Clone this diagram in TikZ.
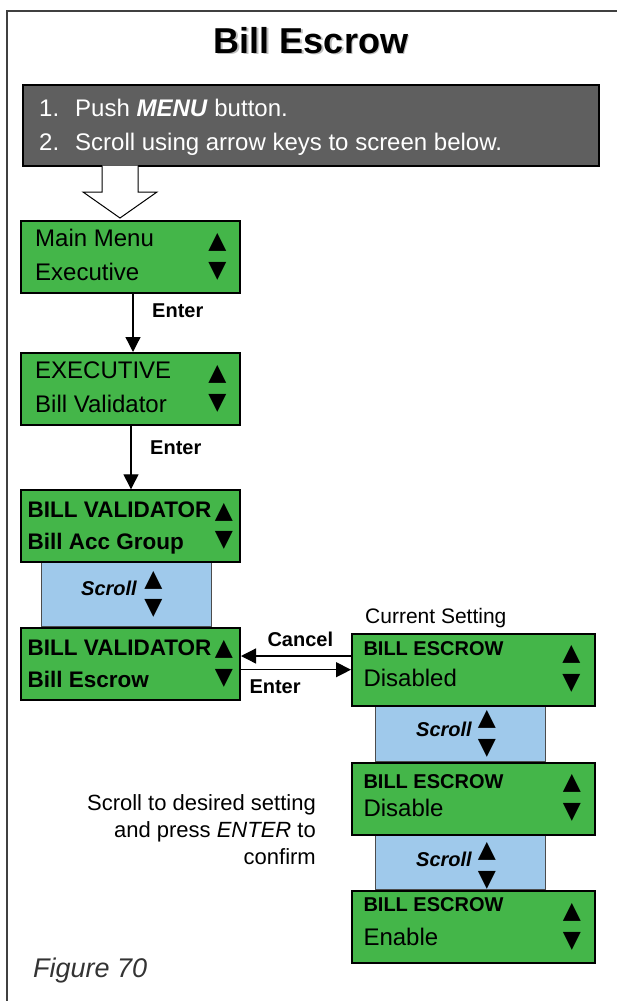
\documentclass[tikz,border=0pt]{standalone}
\usepackage{fontspec}
\setmainfont{Liberation Sans}
\newfontfamily\symfont{DejaVu Sans}
\usetikzlibrary{arrows.meta,positioning}
\definecolor{screengreen}{HTML}{44B649}
\definecolor{scrollblue}{HTML}{9FC9EB}
\definecolor{stepgray}{HTML}{5F5F5F}
\tikzset{
  screen/.style={draw=black, line width=2pt, fill=screengreen, anchor=north west,
    inner sep=0pt, minimum width=219pt, minimum height=72pt},
  setting/.style={screen, minimum width=243pt},
  scrollbox/.style={draw=black!70, line width=1pt, fill=scrollblue, anchor=north west,
    inner sep=0pt, minimum width=170pt},
  txt/.style={anchor=base west, inner sep=0pt, font=\fontsize{24}{28}\selectfont},
  hdr/.style={anchor=base west, inner sep=0pt, font=\fontsize{22.5}{26}\selectfont\bfseries},
  lbl/.style={anchor=base west, inner sep=0pt, font=\fontsize{20}{24}\selectfont\bfseries},
  scrolltxt/.style={lbl, font=\fontsize{20}{24}\selectfont\bfseries\itshape},
  tri/.style={inner sep=0pt, font=\symfont\fontsize{23.5}{23.5}\selectfont},
  flow/.style={line width=1.3pt, -{Triangle[width=15pt,length=15pt]}},
}
\begin{document}
\begin{tikzpicture}[x=1pt,y=-1pt]
\useasboundingbox (0,0) rectangle (616,1001);
% frame
\draw[line width=1.5pt, black!75] (7,11) rectangle (625,1010);
% title with shadow
\node[anchor=base, font=\fontsize{36}{40}\selectfont\bfseries, text=black!25] at (312.8,54.8) {Bill Escrow};
\node[anchor=base, font=\fontsize{36}{40}\selectfont\bfseries] (title) at (311,53) {Bill Escrow};
% instructions
\node[draw=black, line width=1.5pt, fill=stepgray, anchor=north west, inner sep=0pt,
  minimum width=576pt, minimum height=81pt] (steps) at (22,84) {};
\node[txt, text=white] (step1) at (39,116.7) {\makebox[36pt][l]{1.}Push \textbf{\textit{MENU}} button.};
\node[txt, text=white] (step2) at (39,150) {\makebox[36pt][l]{2.}Scroll using arrow keys to screen below.};
% hollow arrow
\draw[line width=1pt, fill=white] (102,165.5) -- (102,192) -- (83,192) -- (120,218) -- (157,192) -- (138,192) -- (138,165.5);

% scroll boxes (behind the screens)
\node[scrollbox, minimum height=65pt] (scrollA) at (40.7,561) {};
\node[scrollbox, minimum height=56pt] (scrollB) at (375,705) {};
\node[scrollbox, minimum height=55pt] (scrollC) at (375,834) {};

% left column
\node[screen] (mainmenu) at (20,220) {};
\node[txt] at (35,246) {Main Menu};
\node[txt] at (35,280) {Executive};
\node[tri] at (217.5,242.3) {▲};
\node[tri] at (217.5,271.7) {▼};

\node[screen] (executive) at (20,352) {};
\node[txt] at (35,378) {EXECUTIVE};
\node[txt] at (35,412) {Bill Validator};
\node[tri] at (217.5,374) {▲};
\node[tri] at (217.5,403.7) {▼};

\node[screen] (validator) at (20,489.3) {};
\node[hdr] at (27.5,517.5) {BILL VALIDATOR};
\node[hdr] at (27.5,549.5) {Bill Acc Group};
\node[tri] at (224,512) {▲};
\node[tri] at (224,540.5) {▼};

\node[scrolltxt] at (81,595) {Scroll};
\node[tri] at (153.5,580) {▲};
\node[tri] at (153.5,608) {▼};

\node[screen] (escrowitem) at (20,627) {};
\node[hdr] at (27.5,655) {BILL VALIDATOR};
\node[hdr] at (27.5,687.5) {Bill Escrow};
\node[tri] at (224,649.3) {▲};
\node[tri] at (224,678.7) {▼};

% right column
\node[anchor=base west, inner sep=0pt, font=\fontsize{21}{25}\selectfont] (curlabel) at (365,623.3) {Current Setting};

\node[setting] (current) at (351,632.7) {};
\node[lbl] at (363.3,655.7) {BILL ESCROW};
\node[txt] at (363.3,686.7) {Disabled};
\node[tri] at (571.5,654.3) {▲};
\node[tri] at (571.5,683.8) {▼};

\node[scrolltxt] at (416,736) {Scroll};
\node[tri] at (487,719.7) {▲};
\node[tri] at (487,748.3) {▼};

\node[setting] (disable) at (351,761.7) {};
\node[lbl] at (363.3,788.3) {BILL ESCROW};
\node[txt] at (363.3,816.7) {Disable};
\node[tri] at (572,783.3) {▲};
\node[tri] at (572,812.4) {▼};

\node[scrolltxt] at (416,866.7) {Scroll};
\node[tri] at (487,851) {▲};
\node[tri] at (487,880) {▼};

\node[setting] (enable) at (351,890) {};
\node[lbl] at (363.3,911.7) {BILL ESCROW};
\node[txt] at (363.3,945) {Enable};
\node[tri] at (572,912) {▲};
\node[tri] at (572,941.5) {▼};

% notes
\node[anchor=base east, align=right, inner sep=0pt, font=\fontsize{22}{27}\selectfont] (note) at (316,864)
  {Scroll to desired setting\\and press \textit{ENTER} to\\confirm};
\node[anchor=base west, inner sep=0pt, font=\fontsize{27}{30}\selectfont\itshape, text=black!80] (fig) at (33,977) {Figure 70};

% connectors
\draw[flow] ([xshift=2.5pt]mainmenu.south) -- ([xshift=2.5pt]executive.north);
\node[lbl] at (152,317) {Enter};
\draw[flow] ([xshift=0.5pt]executive.south) -- ([xshift=0.5pt]validator.north);
\node[lbl] at (150,454) {Enter};
\coordinate (cancelY) at (0,656);
\draw[flow] (current.west |- cancelY) -- (escrowitem.east |- cancelY);
\node[lbl] at (267.3,646) {Cancel};
\draw[flow] (escrowitem.east |- current.west) -- (current.west);
\node[lbl] at (249.3,693) {Enter};
\end{tikzpicture}
\end{document}
